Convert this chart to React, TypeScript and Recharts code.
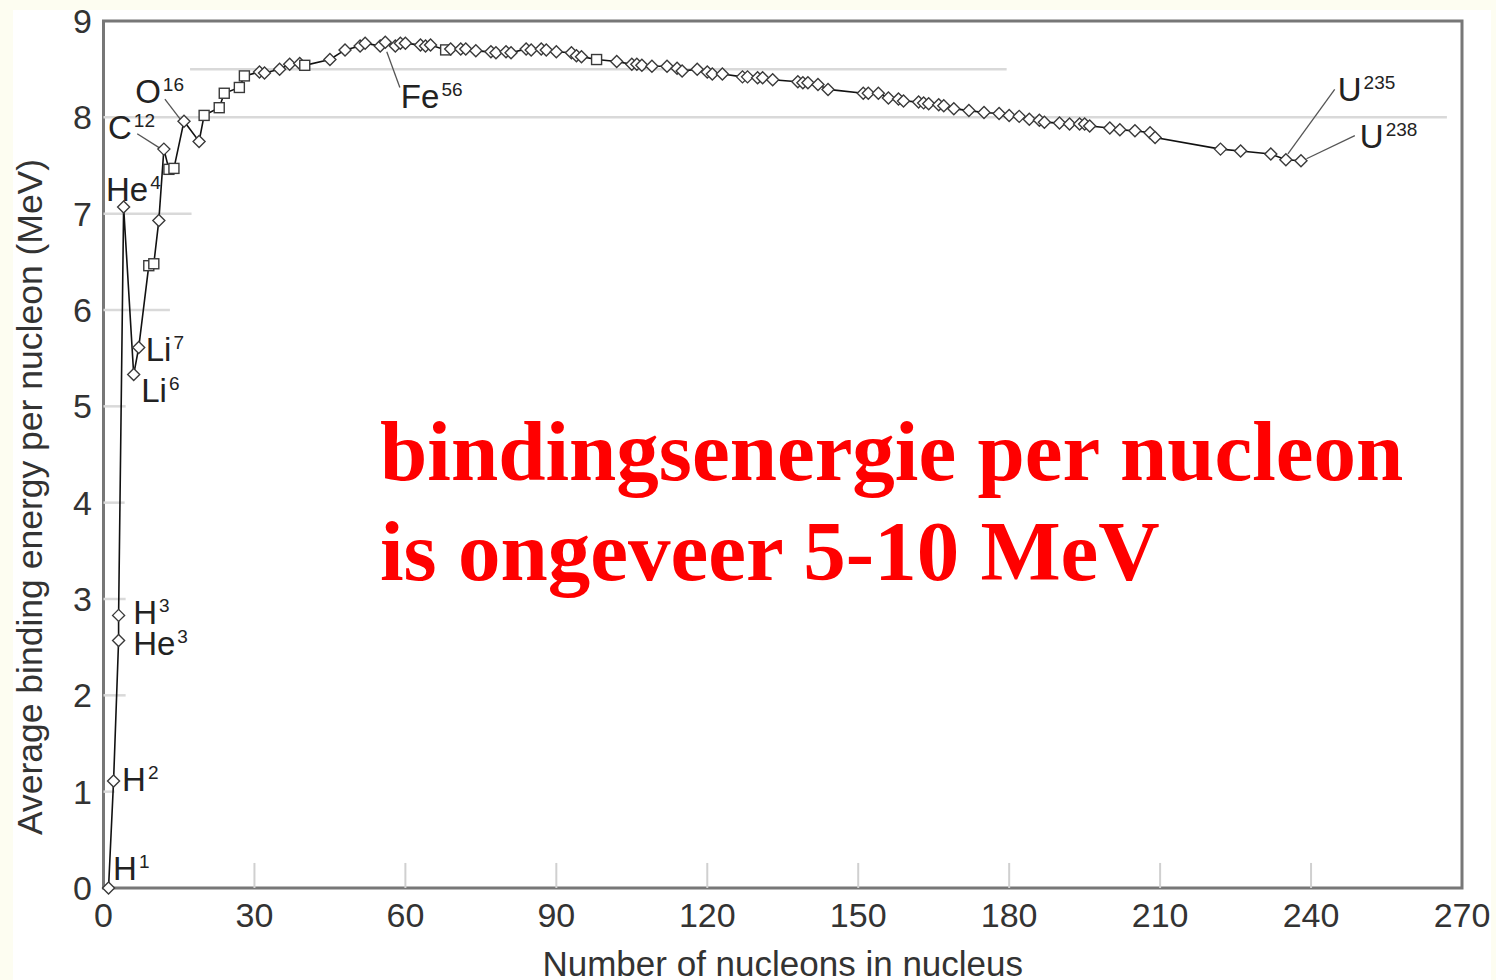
import React from 'react';
import {
  ComposedChart,
  Line,
  XAxis,
  YAxis,
  ReferenceLine,
  ReferenceArea,
  ReferenceDot,
  Label,
} from 'recharts';

// ---- data ----
const massNumbers = [
  1, 2, 3, 3, 4, 6, 7, 9, 10, 11, 12, 13, 14, 16, 19, 20, 23, 24, 27, 28,
  31, 32, 35, 37, 39, 40, 45, 48, 51, 52, 55, 56, 58, 59, 60, 63, 64, 65, 68, 69,
  71, 72, 74, 77, 78, 80, 81, 84, 85, 87, 88, 90, 93, 94, 95, 98, 102, 105, 106, 107,
  109, 112, 114, 115, 118, 120, 121, 123, 127, 128, 130, 131, 133, 138, 139, 140, 142, 144, 151, 152,
  154, 156, 158, 159, 162, 163, 164, 166, 167, 169, 172, 175, 178, 180, 182, 184, 186, 187, 190, 192,
  194, 195, 196, 200, 202, 205, 208, 209, 222, 226, 232, 235, 238,
];

const bindingEnergy = [
  0, 1.11, 2.57, 2.83, 7.07, 5.33, 5.61, 6.46, 6.48, 6.93, 7.67, 7.46, 7.47, 7.96, 7.75, 8.02, 8.10, 8.25, 8.31, 8.43,
  8.47, 8.46, 8.50, 8.55, 8.56, 8.54, 8.60, 8.70, 8.74, 8.77, 8.74, 8.78, 8.74, 8.77, 8.77, 8.75, 8.74, 8.75, 8.70, 8.71,
  8.71, 8.71, 8.69, 8.68, 8.67, 8.68, 8.67, 8.71, 8.70, 8.71, 8.70, 8.68, 8.67, 8.64, 8.63, 8.60, 8.58, 8.55, 8.55, 8.54,
  8.53, 8.53, 8.51, 8.48, 8.50, 8.47, 8.45, 8.45, 8.42, 8.42, 8.41, 8.41, 8.39, 8.37, 8.36, 8.36, 8.34, 8.29, 8.25, 8.25,
  8.25, 8.20, 8.19, 8.17, 8.16, 8.15, 8.14, 8.13, 8.12, 8.09, 8.07, 8.05, 8.04, 8.02, 8.01, 7.98, 7.97, 7.95, 7.94, 7.93,
  7.93, 7.93, 7.91, 7.89, 7.87, 7.86, 7.84, 7.79, 7.67, 7.65, 7.62, 7.56, 7.55,
];

// d = diamond marker, s = square marker
const markerKinds = [
  'd', 'd', 'd', 'd', 'd', 'd', 'd', 's', 's', 'd', 'd', 's', 's', 'd', 'd', 's', 's', 's', 's', 's',
  'd', 'd', 'd', 'd', 'd', 's', 'd', 'd', 'd', 'd', 'd', 'd', 'd', 'd', 'd', 'd', 'd', 'd', 's', 'd',
  'd', 'd', 'd', 'd', 'd', 'd', 'd', 'd', 'd', 'd', 'd', 'd', 'd', 'd', 'd', 's', 'd', 'd', 'd', 'd',
  'd', 'd', 'd', 'd', 'd', 'd', 'd', 'd', 'd', 'd', 'd', 'd', 'd', 'd', 'd', 'd', 'd', 'd', 'd', 'd',
  'd', 'd', 'd', 'd', 'd', 'd', 'd', 'd', 'd', 'd', 'd', 'd', 'd', 'd', 'd', 'd', 'd', 'd', 'd', 'd',
  'd', 'd', 'd', 'd', 'd', 'd', 'd', 'd', 'd', 'd', 'd', 'd', 'd',
];

const xTicks = [0, 30, 60, 90, 120, 150, 180, 210, 240, 270];
const yTicks = [0, 1, 2, 3, 4, 5, 6, 7, 8, 9];
const tickMarkValues = [30, 60, 90, 120, 150, 180, 210, 240];

// partial horizontal guide lines of the original figure (MeV, from A to A)
const guideLevels = [8, 8.5, 7, 6, 5, 4, 3, 2, 1];
const guideStarts = [0, 17.2, 0, 0, 0, 0, 0, 0, 0];
const guideEnds = [267, 179.5, 17.5, 13.2, 4.4, 4.2, 4.4, 4.4, 2.2];

// nuclide labels
const labelSymbols = ['H', 'H', 'H', 'He', 'He', 'Li', 'Li', 'C', 'O', 'Fe', 'U', 'U'];
const labelMasses = ['1', '2', '3', '3', '4', '7', '6', '12', '16', '56', '235', '238'];

const data = massNumbers.map((a, i) => ({ a, b: bindingEnergy[i], kind: markerKinds[i] }));

// ---- layout (positions in chart units) ----
const labelAnchorA = [1.9, 3.7, 5.9, 5.9, 0.5, 8.4, 7.5, 0.9, 6.3, 59.1, 245.3, 249.7];
const labelAnchorB = [0.08, 1.01, 2.74, 2.42, 7.13, 5.47, 5.05, 7.78, 8.15, 8.1, 8.17, 7.68];

const leaderLines = [
  [6.7, 7.83, 11.2, 7.68],
  [12.2, 8.19, 15.4, 7.97],
  [56.3, 8.68, 58.9, 8.31],
  [235.4, 7.62, 244.7, 8.29],
  [239.1, 7.57, 248.7, 7.81],
];

const SANS = "'Liberation Sans', Arial, Helvetica, sans-serif";
const SERIF = "'Liberation Serif', 'Times New Roman', serif";

const renderDot = (props: any) => {
  const { cx, cy, payload, index } = props;
  if (cx == null || cy == null) return <g key={`d${index}`} />;
  if (payload.kind === 's') {
    return (
      <rect
        key={`d${index}`}
        x={cx - 5}
        y={cy - 5}
        width={10}
        height={10}
        fill="#fff"
        stroke="#3a3a3a"
        strokeWidth={1.4}
      />
    );
  }
  const r = 6;
  return (
    <polygon
      key={`d${index}`}
      points={`${cx},${cy - r} ${cx + r},${cy} ${cx},${cy + r} ${cx - r},${cy}`}
      fill="#fff"
      stroke="#3a3a3a"
      strokeWidth={1.4}
    />
  );
};

const makeLabelShape = (sym: string, mass: string) => (p: any) => (
  <text x={p.cx} y={p.cy} fontFamily={SANS} fontSize={33} fill="#222">
    {sym}
    <tspan dx={2} dy={-12} fontSize={19}>
      {mass}
    </tspan>
  </text>
);

export default function App() {
  return (
    <div
      style={{
        position: 'absolute',
        left: 0,
        top: 0,
        width: 1496,
        height: 980,
        background: '#fdfdf1',
        overflow: 'hidden',
      }}
    >
      <div
        style={{
          position: 'absolute',
          left: 13,
          top: 10,
          width: 1478,
          height: 970,
          background: '#ffffff',
        }}
      />
      <div style={{ position: 'absolute', left: 0, top: 0 }}>
        <ComposedChart
          width={1496}
          height={980}
          data={data}
          margin={{ top: 21, right: 34, bottom: 32, left: 0 }}
        >
          <XAxis
            type="number"
            dataKey="a"
            domain={[0, 270]}
            ticks={xTicks}
            interval={0}
            tickLine={false}
            axisLine={false}
            tickSize={0}
            tickMargin={15}
            height={60}
            tick={{ fontSize: 34, fill: '#333', fontFamily: SANS }}
          >
            <Label
              content={(p: any) => {
                const vb = p.viewBox || { x: 103.5, width: 1358.5 };
                return (
                  <text
                    x={vb.x + vb.width / 2}
                    y={976}
                    textAnchor="middle"
                    fontFamily={SANS}
                    fontSize={35}
                    fill="#333"
                  >
                    Number of nucleons in nucleus
                  </text>
                );
              }}
            />
          </XAxis>
          <YAxis
            type="number"
            domain={[0, 9]}
            ticks={yTicks}
            interval={0}
            width={103.5}
            tickLine={false}
            axisLine={false}
            tickSize={0}
            tickMargin={11.5}
            tick={{ fontSize: 34, fill: '#333', fontFamily: SANS }}
          >
            <Label
              content={() => (
                <text
                  x={42}
                  y={497}
                  transform="rotate(-90, 42, 497)"
                  textAnchor="middle"
                  fontFamily={SANS}
                  fontSize={35.5}
                  fill="#333"
                >
                  Average binding energy per nucleon (MeV)
                </text>
              )}
            />
          </YAxis>

          {guideLevels.map((lv, i) => (
            <ReferenceLine
              key={`g${i}`}
              segment={[
                { x: guideStarts[i], y: lv },
                { x: guideEnds[i], y: lv },
              ]}
              stroke="#d9d9d9"
              strokeWidth={2.5}
            />
          ))}
          {tickMarkValues.map((t) => (
            <ReferenceLine
              key={`t${t}`}
              segment={[
                { x: t, y: 0 },
                { x: t, y: 0.26 },
              ]}
              stroke="#d0d0d0"
              strokeWidth={2}
            />
          ))}

          <ReferenceArea
            x1={0}
            x2={270}
            y1={0}
            y2={9}
            fill="#fff"
            fillOpacity={0}
            stroke="#777"
            strokeWidth={3}
            ifOverflow="visible"
          />

          <Line
            type="linear"
            dataKey="b"
            stroke="#111"
            strokeWidth={1.6}
            dot={renderDot}
            activeDot={false}
            isAnimationActive={false}
          />

          {leaderLines.map((l, i) => (
            <ReferenceLine
              key={`l${i}`}
              segment={[
                { x: l[0], y: l[1] },
                { x: l[2], y: l[3] },
              ]}
              stroke="#555"
              strokeWidth={1.3}
            />
          ))}

          {labelSymbols.map((s, i) => (
            <ReferenceDot
              key={`n${i}`}
              x={labelAnchorA[i]}
              y={labelAnchorB[i]}
              r={0}
              ifOverflow="visible"
              shape={makeLabelShape(s, labelMasses[i])}
            />
          ))}
        </ComposedChart>
      </div>
      <svg
        width={1496}
        height={980}
        style={{ position: 'absolute', left: 0, top: 0, pointerEvents: 'none' }}
      >
        <text x={380} y={480} fontFamily={SERIF} fontWeight="bold" fontSize={85} fill="#ff0000">
          bindingsenergie per nucleon
        </text>
        <text x={380} y={580} fontFamily={SERIF} fontWeight="bold" fontSize={85} fill="#ff0000">
          is ongeveer 5-10 MeV
        </text>
      </svg>
    </div>
  );
}
